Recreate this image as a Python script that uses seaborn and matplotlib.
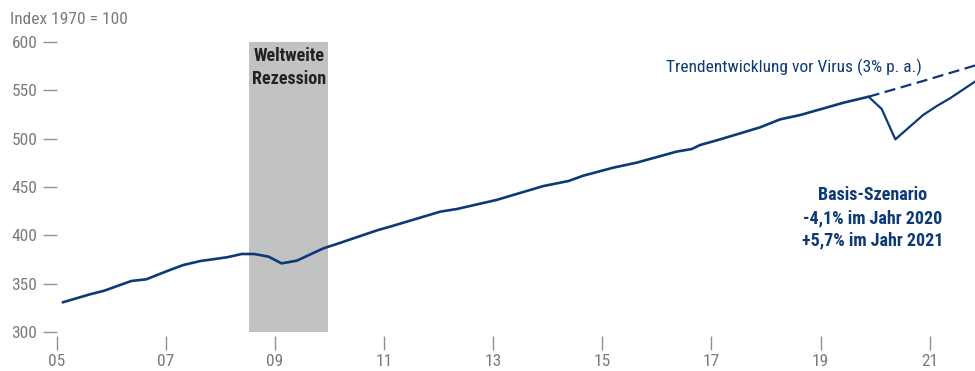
import matplotlib
matplotlib.use("Agg")
import matplotlib.pyplot as plt
from matplotlib import font_manager as fm
import seaborn as sns
import pandas as pd

# ---- data ----
hist_year = [2005.11, 2005.61, 2005.87, 2006.16, 2006.37, 2006.64, 2007.02, 2007.32,
             2007.63, 2008.12, 2008.39, 2008.62, 2008.88, 2009.12, 2009.40, 2009.89,
             2010.13, 2010.89, 2011.11, 2012.03, 2012.33, 2013.06, 2013.92, 2014.38,
             2014.65, 2015.20, 2015.63, 2016.36, 2016.64, 2016.79, 2017.16, 2017.89,
             2018.26, 2018.63, 2019.42, 2019.88]
hist_value = [330.7, 339.0, 342.7, 348.6, 352.8, 354.5, 363.0, 369.3,
              373.4, 377.3, 380.7, 380.7, 378.0, 371.0, 373.8, 386.6,
              391.0, 405.5, 409.0, 424.5, 427.2, 436.6, 451.0, 456.2,
              461.7, 470.0, 475.2, 486.6, 489.3, 493.4, 499.3, 511.7,
              520.0, 524.5, 537.2, 543.4]
scen_year = [2019.88, 2020.12, 2020.37, 2020.88, 2021.13, 2021.37, 2021.83]
scen_value = [543.4, 530.7, 499.3, 524.5, 533.8, 541.7, 559.0]
trend_year = [2019.88, 2020.88, 2021.88]
trend_value = [543.4, 559.7, 576.5]
recession = [2008.52, 2009.98]
x_ticks = [2005, 2007, 2009, 2011, 2013, 2015, 2017, 2019, 2021]
x_labels = ["05", "07", "09", "11", "13", "15", "17", "19", "21"]
y_ticks = [300, 350, 400, 450, 500, 550, 600]

sns.set_theme(style="white")

# pick a condensed font if available
names = {f.name for f in fm.fontManager.ttflist}
cond = None
for cand in ["Liberation Sans Narrow", "Roboto Condensed", "Open Sans Condensed",
             "Noto Sans Condensed", "DejaVu Sans Condensed"]:
    if cand in names:
        cond = cand
        break
stretch = "normal"
if cond is None:
    cond = "DejaVu Sans"
    stretch = "condensed"
plt.rcParams["font.family"] = [cond, "DejaVu Sans"]
plt.rcParams["font.stretch"] = stretch

NAVY = "#0d3a76"
GRAY = "#7a7a7a"

fig = plt.figure(figsize=(9.75, 3.71), dpi=100)
ax = fig.add_axes([0.0582, 0.1051, 1 - 0.0582, 0.8868 - 0.1051])

ax.axvspan(recession[0], recession[1], ymin=0, ymax=1, color="#c1c2c2", lw=0, zorder=0)

df_h = pd.DataFrame({"year": hist_year, "value": hist_value})
df_s = pd.DataFrame({"year": scen_year, "value": scen_value})
df_t = pd.DataFrame({"year": trend_year, "value": trend_value})
sns.lineplot(data=df_h, x="year", y="value", ax=ax, color=NAVY, lw=1.9, sort=False)
sns.lineplot(data=df_s, x="year", y="value", ax=ax, color=NAVY, lw=1.6, sort=False)
sns.lineplot(data=df_t, x="year", y="value", ax=ax, color=NAVY, lw=1.6, sort=False,
             dashes=False, linestyle=(0, (5, 2.5)))

ax.set_xlim(2005.0, 2021.83)
ax.set_ylim(300, 600)
ax.set_xticks(x_ticks)
ax.set_xticklabels(x_labels)
ax.set_yticks(y_ticks)
ax.set_xlabel("")
ax.set_ylabel("")
for s in ax.spines.values():
    s.set_visible(False)
ax.spines["bottom"].set_position(("outward", 3))
ax.tick_params(axis="x", bottom=True, length=10, width=1, color="#909090",
               labelsize=12.5, labelcolor=GRAY, pad=3, direction="out")
ax.tick_params(axis="y", left=True, length=10, width=1, color="#909090",
               labelsize=12.5, labelcolor=GRAY, pad=4, direction="out")
ax.grid(False)

fig.text(10 / 975, 1 - 20 / 371, "Index 1970 = 100", color=GRAY, fontsize=12.5,
         ha="left", va="center")

ax.text((recession[0] + recession[1]) / 2, 595, "Weltweite\nRezession", ha="center",
        va="top", fontsize=13, fontweight="bold", color="#222222", linespacing=1.4)
ax.text(2020.86, 574, "Trendentwicklung vor Virus (3% p. a.)", ha="right", va="center",
        fontsize=12.5, color=NAVY)
ax.text(2019.95, 418, "Basis-Szenario\n-4,1% im Jahr 2020\n+5,7% im Jahr 2021",
        ha="center", va="center", fontsize=13, fontweight="bold", color=NAVY,
        linespacing=1.35)

fig.savefig("out.png", dpi=100)
